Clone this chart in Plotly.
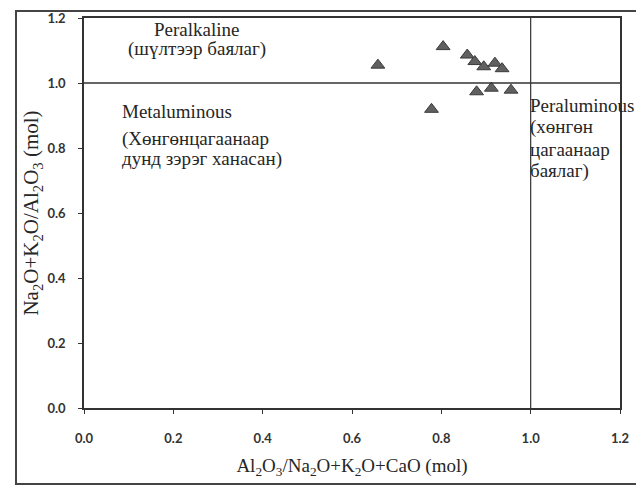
import plotly.graph_objects as go

# Data
x_vals = [0.658, 0.804, 0.858, 0.875, 0.895, 0.920, 0.936, 0.879, 0.912, 0.956, 0.778]
y_vals = [1.055, 1.112, 1.086, 1.066, 1.050, 1.061, 1.044, 0.973, 0.984, 0.978, 0.919]
tick_vals = [0.0, 0.2, 0.4, 0.6, 0.8, 1.0, 1.2]
tick_text = ["0.0", "0.2", "0.4", "0.6", "0.8", "1.0", "1.2"]

SERIF = "Liberation Serif, Times New Roman, serif"
TXT = "#262626"

fig = go.Figure()
fig.add_trace(go.Scatter(
    x=x_vals, y=y_vals, mode="markers",
    marker=dict(symbol="triangle-up", size=12, color="#606060",
                line=dict(color="#3a3a3a", width=1)),
    showlegend=False, hoverinfo="x+y"))

# Boundary lines
fig.add_shape(type="line", x0=0, x1=1.2, y0=1.0, y1=1.0,
              line=dict(color="#333", width=1.5))
fig.add_shape(type="line", x0=1.0, x1=1.0, y0=0, y1=1.2,
              line=dict(color="#333", width=1.2))

# Figure geometry (page body has an 8px margin)
OFF = 8
W, H = 644 - 2 * OFF, 488 - OFF
L, R, T, B = 84 - OFF, 620 - OFF, 18 - OFF, 408 - OFF

def px_to_paper_x(px):
    return (px - OFF - L) / (R - L)
def px_to_paper_y(py):
    return (B - (py - OFF)) / (B - T)

fig.add_shape(type="rect", xref="paper", yref="paper", layer="above",
              x0=px_to_paper_x(16), x1=px_to_paper_x(641),
              y0=px_to_paper_y(484), y1=px_to_paper_y(11),
              line=dict(color="#444", width=2), fillcolor="rgba(0,0,0,0)")

def ann(text, x, y, xanchor="left"):
    fig.add_annotation(x=x, y=y, text=text, showarrow=False,
                       xanchor=xanchor, yanchor="middle",
                       font=dict(family=SERIF, size=19, color=TXT))

ann("Peralkaline", 0.252, 1.166, "center")
ann("(шүлтээр баялаг)", 0.252, 1.105, "center")
ann("Metaluminous", 0.080, 0.912)
ann("(Хөнгөнцагаанаар", 0.080, 0.828)
ann("дунд зэрэг ханасан)", 0.080, 0.766)
ann("Peraluminous", 0.993, 0.932)
ann("(хөнгөн", 0.993, 0.865)
ann("цагаанаар", 0.993, 0.796)
ann("баялаг)", 0.993, 0.729)

axis_common = dict(
    range=[0, 1.2], tickvals=tick_vals, ticktext=tick_text,
    showgrid=False, zeroline=False, showline=True, mirror=True,
    linecolor="#333", linewidth=1.5, ticks="outside", ticklen=4,
    tickcolor="#333", automargin=False,
    tickfont=dict(family="Lato, Open Sans, sans-serif", size=13, color="#333", weight="bold"),
)

fig.update_layout(
    width=W, height=H,
    margin=dict(l=L, r=W - R, t=T, b=H - B, autoexpand=False),
    paper_bgcolor="white", plot_bgcolor="white",
    xaxis=dict(**axis_common, ticklabelstandoff=14,
               title=dict(text="Al<sub>2</sub>O<sub>3</sub>/Na<sub>2</sub>O+K<sub>2</sub>O+CaO (mol)",
                          font=dict(family=SERIF, size=19, color=TXT), standoff=13)),
    yaxis=dict(**axis_common, ticklabelstandoff=10,
               title=dict(text="Na<sub>2</sub>O+K<sub>2</sub>O/Al<sub>2</sub>O<sub>3</sub> (mol)",
                          font=dict(family=SERIF, size=21, color=TXT), standoff=3)),
)

fig.write_html("out.html")
